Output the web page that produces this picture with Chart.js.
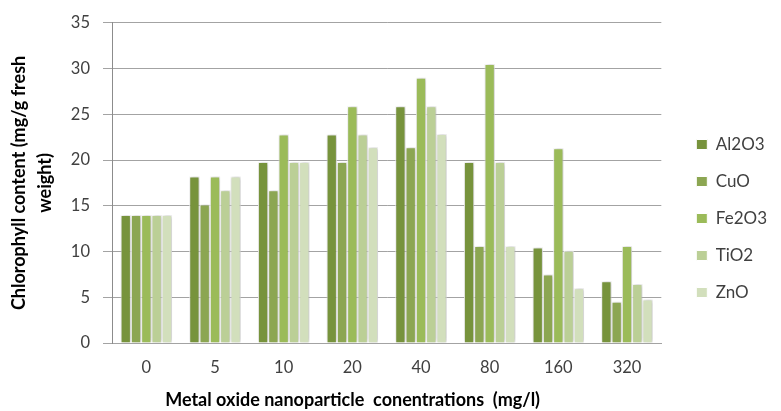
<!DOCTYPE html>
<html>
<head>
<meta charset="utf-8">
<script src="https://cdn.jsdelivr.net/npm/chart.js@4"></script>
<style>
  html, body { margin: 0; padding: 0; background: #ffffff; }
  #wrap { width: 781px; height: 411px; position: relative; }
</style>
</head>
<body>
<div id="wrap"><canvas id="chart" width="781" height="411"></canvas></div>
<script>
// Concentrations (mg/l) on the category axis
const concentrations = ['0', '5', '10', '20', '40', '80', '160', '320'];

// Chlorophyll content (mg/g fresh weight) per nanoparticle type
const al2o3 = [14, 18.2, 19.8, 22.8, 25.9, 19.8, 10.45, 6.75];
const cuo   = [14, 15.15, 16.7, 19.8, 21.4, 10.6, 7.5, 4.5];
const fe2o3 = [14, 18.2, 22.8, 25.9, 29.0, 30.5, 21.3, 10.6];
const tio2  = [14, 16.7, 19.8, 22.8, 25.9, 19.8, 10.1, 6.45];
const zno   = [14, 18.2, 19.8, 21.4, 22.85, 10.6, 6.0, 4.75];

const seriesNames = ['Al2O3', 'CuO', 'Fe2O3', 'TiO2', 'ZnO'];
const seriesValues = [al2o3, cuo, fe2o3, tio2, zno];
const seriesColors = ['#77933C', '#8CA652', '#9BBB59', '#BBCF96', '#D2DFBC'];

const yTicks = { min: 0, max: 35, step: 5 };
const xTitle = 'Metal oxide nanoparticle  conentrations  (mg/l)';

// Soft drop shadow behind the bars
const barShadow = {
  id: 'barShadow',
  beforeDatasetsDraw(chart) {
    const ctx = chart.ctx;
    ctx.save();
    ctx.shadowColor = 'rgba(0,0,0,0.28)';
    ctx.shadowBlur = 4;
    ctx.shadowOffsetX = 1;
    ctx.shadowOffsetY = 0;
  },
  afterDatasetsDraw(chart) {
    chart.ctx.restore();
  }
};

// Horizontal axis title, set a little left of the plot centre
const xAxisTitle = {
  id: 'xAxisTitle',
  afterDraw(chart) {
    const { ctx, chartArea } = chart;
    ctx.save();
    ctx.font = 'bold 18px Lato';
    ctx.fillStyle = '#000000';
    ctx.textAlign = 'center';
    ctx.textBaseline = 'middle';
    const cx = chartArea.left + (chartArea.right - chartArea.left) * 0.438;
    ctx.fillText(xTitle, cx, chartArea.bottom + 57);
    ctx.restore();
  }
};

const gridGrey = '#A3A3A3';

new Chart(document.getElementById('chart'), {
  type: 'bar',
  data: {
    labels: concentrations,
    datasets: seriesNames.map((name, i) => ({
      label: name,
      data: seriesValues[i],
      backgroundColor: seriesColors[i],
      borderColor: '#ffffff',
      borderWidth: 1,
      categoryPercentage: 0.75,
      barPercentage: 1.0
    }))
  },
  plugins: [barShadow, xAxisTitle],
  options: {
    responsive: false,
    animation: false,
    devicePixelRatio: 1,
    layout: { padding: { top: 10, right: 4, bottom: 0, left: 0 } },
    plugins: {
      tooltip: { enabled: false },
      legend: {
        position: 'right',
        align: 'center',
        title: { display: true, text: '', font: { size: 10, lineHeight: 1.6 }, padding: 0 },
        labels: {
          boxWidth: 11,
          boxHeight: 10,
          padding: 20,
          color: '#404040',
          font: { family: 'Lato', size: 17 }
        }
      }
    },
    scales: {
      x: {
        grid: { display: false, drawTicks: false },
        border: { display: true, color: gridGrey, width: 1 },
        ticks: {
          color: '#404040',
          padding: 15,
          font: { family: 'Lato', size: 16.5 }
        },
        title: { display: false },
        afterFit(scale) { scale.height = 68; }
      },
      y: {
        min: yTicks.min,
        max: yTicks.max,
        ticks: {
          stepSize: yTicks.step,
          color: '#404040',
          padding: 13,
          font: { family: 'Lato', size: 16.5 }
        },
        grid: { color: gridGrey, lineWidth: 1, tickLength: 9, drawTicks: true },
        border: { display: true, color: '#8C8C8C', width: 1 },
        title: {
          display: true,
          text: ['Chlorophyll content (mg/g fresh', 'weight)'],
          color: '#000000',
          font: { family: 'Lato', size: 18, weight: 'bold', lineHeight: 1.4 },
          padding: { top: 7, bottom: 0 }
        },
        afterFit(scale) { scale.width = 112; }
      },
      legendGap: {
        type: 'linear',
        position: 'right',
        display: true,
        grid: { display: false, drawTicks: false },
        border: { display: false },
        ticks: { display: false },
        afterFit(scale) { scale.width = 15; }
      }
    }
  }
});
</script>
</body>
</html>
